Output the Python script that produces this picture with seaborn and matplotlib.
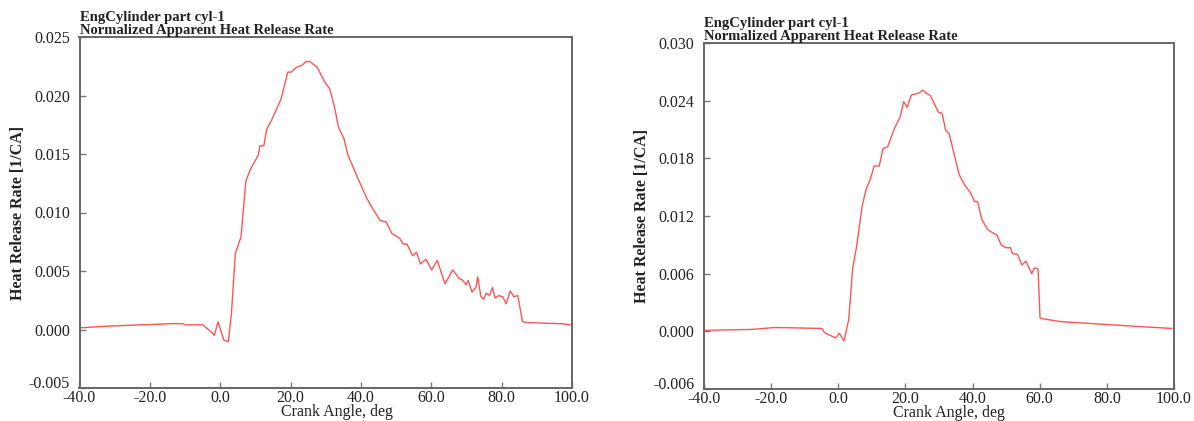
import numpy as np
import pandas as pd
import matplotlib
matplotlib.use("Agg")
import matplotlib.pyplot as plt
import matplotlib.transforms as mtransforms
import seaborn as sns

# Case 1: combustion ends near 86 deg
left_angle = [-40, -31, -13.6, -10.6, -10, -5, -2.2, -1.7, -0.6, 1.0, 2.3, 3.2, 4.3, 5.9,
              7.3, 8.6, 10.8, 11.3, 12.4, 13.2, 14.6, 17.3, 19.2, 20.2, 21.6, 23.3, 24.4,
              25.5, 27.6, 29.8, 31.1, 32.5, 33.6, 35.2, 36.3, 39.6, 41.7, 43.4, 45.5, 47.2,
              48.8, 51.0, 52.0, 53.1, 54.7, 55.8, 56.9, 58.5, 60.1, 61.7, 63.9, 66.1, 67.8,
              69.0, 69.9, 70.5, 71.6, 72.7, 73.2, 74.1, 74.9, 75.6, 76.5, 77.4, 78.1, 79.2,
              80.3, 81.3, 82.4, 83.5, 84.6, 85.9, 86.8, 96.5, 100]
left_hrr = [0.00014, 0.0003, 0.0005, 0.0005, 0.0004, 0.0004, -0.0003, -0.0005, 0.00065,
            -0.0009, -0.00105, 0.0014, 0.0065, 0.0079, 0.0127, 0.0137, 0.0149, 0.0157,
            0.0157, 0.0171, 0.0179, 0.0197, 0.0220, 0.0220, 0.0224, 0.0226, 0.0229, 0.0229,
            0.0224, 0.0211, 0.0206, 0.0190, 0.0173, 0.0163, 0.0149, 0.0126, 0.0112, 0.0103,
            0.0093, 0.0092, 0.0082, 0.0078, 0.0073, 0.0073, 0.0063, 0.0066, 0.0056, 0.0060,
            0.0051, 0.0059, 0.0039, 0.0051, 0.0044, 0.0042, 0.0038, 0.0042, 0.0032, 0.0036,
            0.0045, 0.0028, 0.0026, 0.0031, 0.0029, 0.0036, 0.0027, 0.0029, 0.0028, 0.0022,
            0.0033, 0.0028, 0.0029, 0.0007, 0.0006, 0.0005, 0.0004]

# Case 2: combustion ends near 60 deg
right_angle = [-40, -25.7, -18.9, -4.8, -4.2, -3.1, -0.8, 0.3, 1.7, 3.1, 4.3, 5.4, 7.1, 8.2,
               9.6, 10.7, 12.2, 13.3, 14.7, 16.7, 18.4, 19.5, 20.5, 21.8, 24.1, 25.2, 26.1,
               27.5, 29.8, 30.9, 32.0, 33.0, 36.0, 37.7, 39.4, 40.6, 41.5, 42.8, 44.5, 46.2,
               47.3, 48.5, 49.9, 51.3, 51.9, 53.4, 54.7, 55.9, 57.6, 58.4, 59.5, 60.1, 61.0,
               66.4, 75.9, 89.5, 99.4]
right_hrr = [0.0001, 0.0002, 0.0004, 0.0003, -0.0001, -0.0003, -0.0007, -0.0002, -0.001,
             0.0012, 0.0066, 0.0087, 0.0130, 0.0147, 0.0159, 0.0172, 0.0172, 0.0190, 0.0192,
             0.0211, 0.0223, 0.0239, 0.0233, 0.0246, 0.0248, 0.0251, 0.0248, 0.0245, 0.0228,
             0.0227, 0.0209, 0.0206, 0.0163, 0.0152, 0.0144, 0.0135, 0.0135, 0.0116, 0.0106,
             0.0102, 0.0100, 0.0090, 0.0087, 0.0087, 0.0081, 0.0080, 0.0069, 0.0073, 0.0060,
             0.0066, 0.0065, 0.0014, 0.0013, 0.0010, 0.0008, 0.0005, 0.0003]

left_yticks = [-0.005, 0.0, 0.005, 0.010, 0.015, 0.020, 0.025]
right_yticks = [-0.006, 0.0, 0.006, 0.012, 0.018, 0.024, 0.030]
xticks = [-40, -20, 0, 20, 40, 60, 80, 100]

sns.set_style("ticks", {"xtick.direction": "in", "ytick.direction": "in"})
plt.rcParams["font.family"] = ["Liberation Serif", "DejaVu Serif"]

fig = plt.figure(figsize=(11.94, 4.21), dpi=100)
ax1 = fig.add_axes([79.5 / 1194, 1 - 388 / 421, (572 - 79.5) / 1194, (388 - 37) / 421])
ax2 = fig.add_axes([704 / 1194, 1 - 389 / 421, (1174 - 704) / 1194, (389 - 43) / 421])

panels = [
    (ax1, left_angle, left_hrr, left_yticks),
    (ax2, right_angle, right_hrr, right_yticks),
]

txt = "#222222"
for ax, ang, hrr, yt in panels:
    df = pd.DataFrame({"angle": ang, "hrr": hrr})
    sns.lineplot(data=df, x="angle", y="hrr", ax=ax, color="#ff5555", linewidth=1.0)
    ax.set_xlim(-40, 100)
    ax.set_ylim(yt[0], yt[-1])
    ax.set_xticks(xticks)
    ax.set_xticklabels([f"{v:.1f}" for v in xticks])
    ax.set_yticks(yt)
    ax.set_yticklabels([f"{v:.3f}" for v in yt])
    ax.tick_params(length=4, width=1, color="#777777", labelsize=11.5,
                   labelcolor=txt)
    ax.tick_params(axis="y", pad=7)
    ax.tick_params(axis="x", pad=1.5)
    # bottom y label sits a little higher, clear of the x labels
    shift = mtransforms.ScaledTranslation(0, 4 / 72, fig.dpi_scale_trans)
    lab = ax.get_yticklabels()[0]
    lab.set_transform(lab.get_transform() + shift)
    for s in ax.spines.values():
        s.set_visible(True)
        s.set_color("#666666")
        s.set_linewidth(1.4)
    ax.set_xlabel("Crank Angle, deg", fontsize=11.5, color=txt)
    ax.xaxis.set_label_coords(0.522, -0.047)
    ax.set_ylabel("Heat Release Rate [1/CA]", fontsize=11.5, fontweight="bold",
                  labelpad=2, color=txt)
    ax.set_title("EngCylinder part cyl-1\nNormalized Apparent Heat Release Rate",
                 loc="left", fontsize=10.5, fontweight="bold", pad=2,
                 linespacing=1.05, color=txt)

fig.savefig("out.png", dpi=100)
